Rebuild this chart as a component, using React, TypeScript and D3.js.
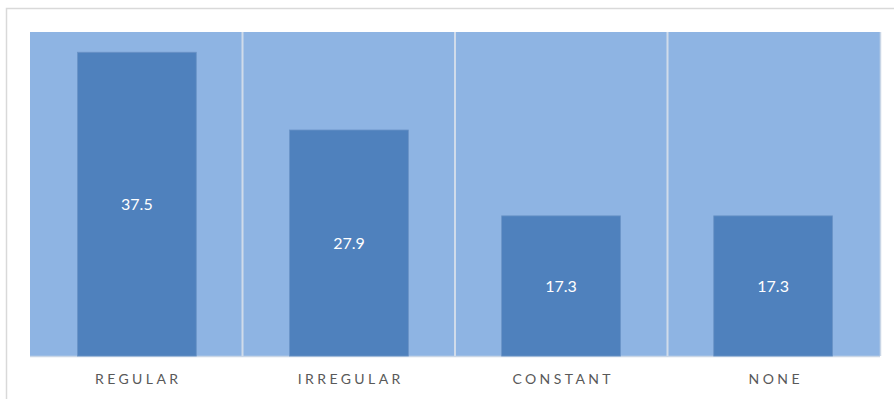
import * as d3 from 'd3';
import React from 'react';

const categories = ['REGULAR', 'IRREGULAR', 'CONSTANT', 'NONE'];
const values = [37.5, 27.9, 17.3, 17.3];
const yMax = 40;

export default function App() {
    const width = 894;
    const height = 399;
    const plot = { left: 30, right: 880, top: 32, bottom: 356 };

    const x = d3.scaleBand<string>()
        .domain(categories)
        .range([plot.left, plot.right])
        .paddingInner(0.44)
        .paddingOuter(0.224);

    const band = d3.scaleBand<string>()
        .domain(categories)
        .range([plot.left, plot.right]);

    const y = d3.scaleLinear()
        .domain([0, yMax])
        .range([plot.bottom, plot.top]);

    return (
        <svg width={width} height={height}
            style={{ position: 'absolute', left: 0, top: 0, display: 'block' }}>
            {/* outer frame */}
            <rect x={6.5} y={8.5} width={width} height={height} fill="#fff" stroke="#d9d9d9" strokeWidth={1.5} />

            {/* plot background */}
            <rect x={plot.left} y={plot.top} width={plot.right - plot.left} height={plot.bottom - plot.top} fill="#8eb4e3" />
            <line x1={plot.left} x2={plot.right} y1={plot.bottom + 0.5} y2={plot.bottom + 0.5} stroke="#c9d6e6" strokeWidth={1.5} />
            <line x1={plot.right + 0.5} x2={plot.right + 0.5} y1={plot.top} y2={plot.bottom} stroke="#c9d6e6" strokeWidth={1.5} />

            {/* category dividers */}
            {categories.slice(1).map(c => (
                <line key={c} x1={band(c)!} x2={band(c)!} y1={plot.top} y2={plot.bottom}
                    stroke="#d0dbea" strokeWidth={2} />
            ))}

            {/* bars */}
            {categories.map((c, i) => (
                <g key={c}>
                    <rect x={x(c)} y={y(values[i])} width={x.bandwidth()} height={y(0) - y(values[i])}
                        fill="#4f81bd" stroke="#6a93c6" strokeWidth={0.8} />
                    <text x={x(c)! + x.bandwidth() / 2} y={(y(values[i]) + y(0)) / 2}
                        dy="0.35em" textAnchor="middle" fill="#fff"
                        style={{ font: '16px Lato, "Open Sans", sans-serif' }}>
                        {values[i].toFixed(1)}
                    </text>
                </g>
            ))}

            {/* category labels */}
            {categories.map(c => (
                <text key={c} x={band(c)! + band.bandwidth() / 2 + 2} y={379} dy="0.35em"
                    textAnchor="middle" fill="#595959" letterSpacing={3.4}
                    style={{ font: '14px Lato, "Open Sans", sans-serif' }}>
                    {c}
                </text>
            ))}
        </svg>
    );
}
